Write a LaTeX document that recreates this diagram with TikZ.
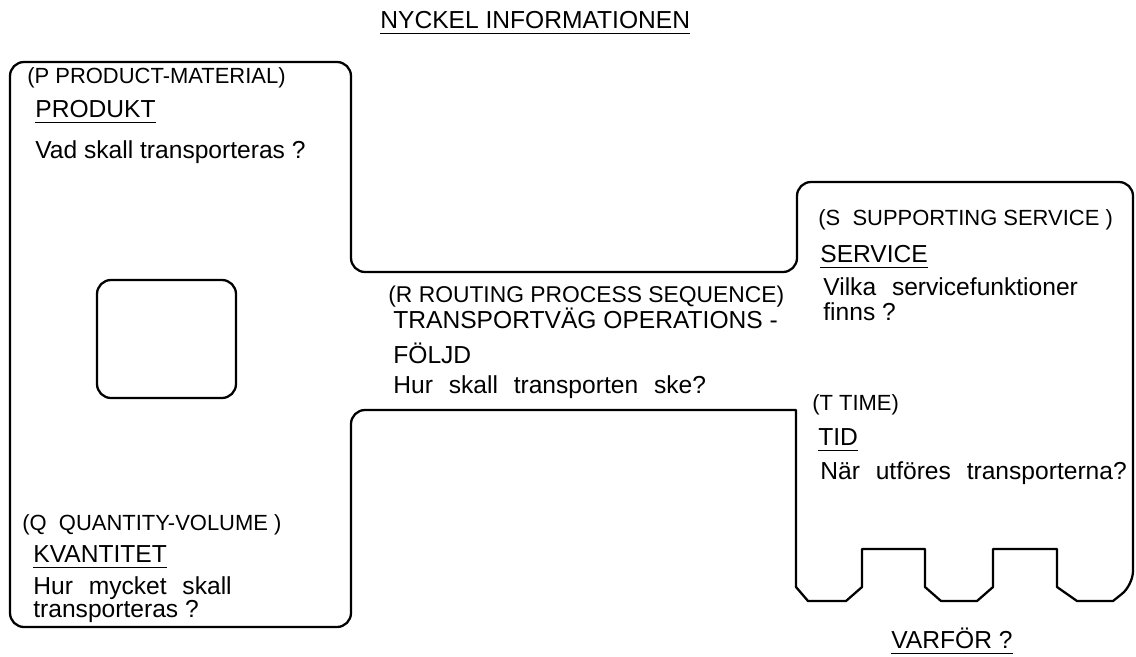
\documentclass[tikz,border=0pt]{standalone}
\usepackage{fontspec}
\setmainfont{Liberation Sans}
\usepackage{tikz}

% underline that sits a little lower and heavier than \underline
\newcommand{\ulword}[1]{\setbox0=\hbox{#1}\rlap{\rule[-3.6pt]{\wd0}{0.9pt}}\box0}
% wider word gaps
\newcommand{\widegaps}{\spaceskip=9pt\relax}

\begin{document}
\begin{tikzpicture}[
  x=0.02cm, y=-0.02cm,
  outl/.style={line width=1.3pt, line join=round},
  pl/.style={anchor=base west, inner sep=0pt, font=\fontsize{12.5}{14}\selectfont},
  hd/.style={anchor=base west, inner sep=0pt, font=\fontsize{14}{16}\selectfont},
  qs/.style={anchor=base west, inner sep=0pt, font=\fontsize{14}{16}\selectfont},
  qw/.style={qs, font=\fontsize{14}{16}\selectfont\widegaps}
]
\useasboundingbox (0,0) rectangle (1136,656);

% key outline
\draw[outl, rounded corners=8pt] (10,62) -- (351,62) -- (351,272) -- (797,272) -- (797,182) -- (1133,182) -- (1133,585)
  [sharp corners] -- (1113,601) -- (1077,601) -- (1057,587) -- (1057,549) -- (993,549) -- (993,587)
  -- (977,601) -- (941,601) -- (925,587) -- (925,549) -- (862,549) -- (862,587) -- (846,601)
  -- (808,601) -- (796,587) -- (796,410)
  [rounded corners=8pt] -- (351,410) -- (351,627) -- (10,627) -- cycle;

% hole
\draw[outl, rounded corners=8pt] (97,280) rectangle (236,398);

\node[hd] (title) at (380,28) {\ulword{NYCKEL INFORMATIONEN}};

\node[pl] (pP) at (27,83) {(P PRODUCT-MATERIAL)};
\node[hd] (prod) at (35,117) {\ulword{PRODUKT}};
\node[qs] (qP) at (35,158) {Vad skall transporteras ?};

\node[pl] (pQ) at (22,530) {(Q\ \ QUANTITY-VOLUME )};
\node[hd] (kvant) at (33,562) {\ulword{KVANTITET}};
\node[qw] (qQa) at (33,594) {Hur mycket skall};
\node[qs] (qQb) at (33,617) {transporteras ?};

\node[pl, font=\fontsize{13}{15}\selectfont] (pR) at (388,302) {(R ROUTING PROCESS SEQUENCE)};
\node[hd] (rtA) at (393,328) {TRANSPORTVÄG OPERATIONS -};
\node[hd] (rtB) at (393,363) {FÖLJD};
\node[qw] (qR) at (393,393) {Hur skall transporten ske?};

\node[pl] (pS) at (818,225) {(S\ \ SUPPORTING SERVICE )};
\node[hd] (serv) at (820,262) {\ulword{SERVICE}};
\node[qw] (qSa) at (823,295) {Vilka servicefunktioner};
\node[qs] (qSb) at (823,320) {finns ?};

\node[pl] (pT) at (812,410) {(T TIME)};
\node[hd] (tid) at (818,445) {\ulword{TID}};
\node[qw] (qT) at (820,479) {När utföres transporterna?};

\node[hd] (why) at (891,648) {\ulword{VARFÖR ?}};

\end{tikzpicture}
\end{document}
